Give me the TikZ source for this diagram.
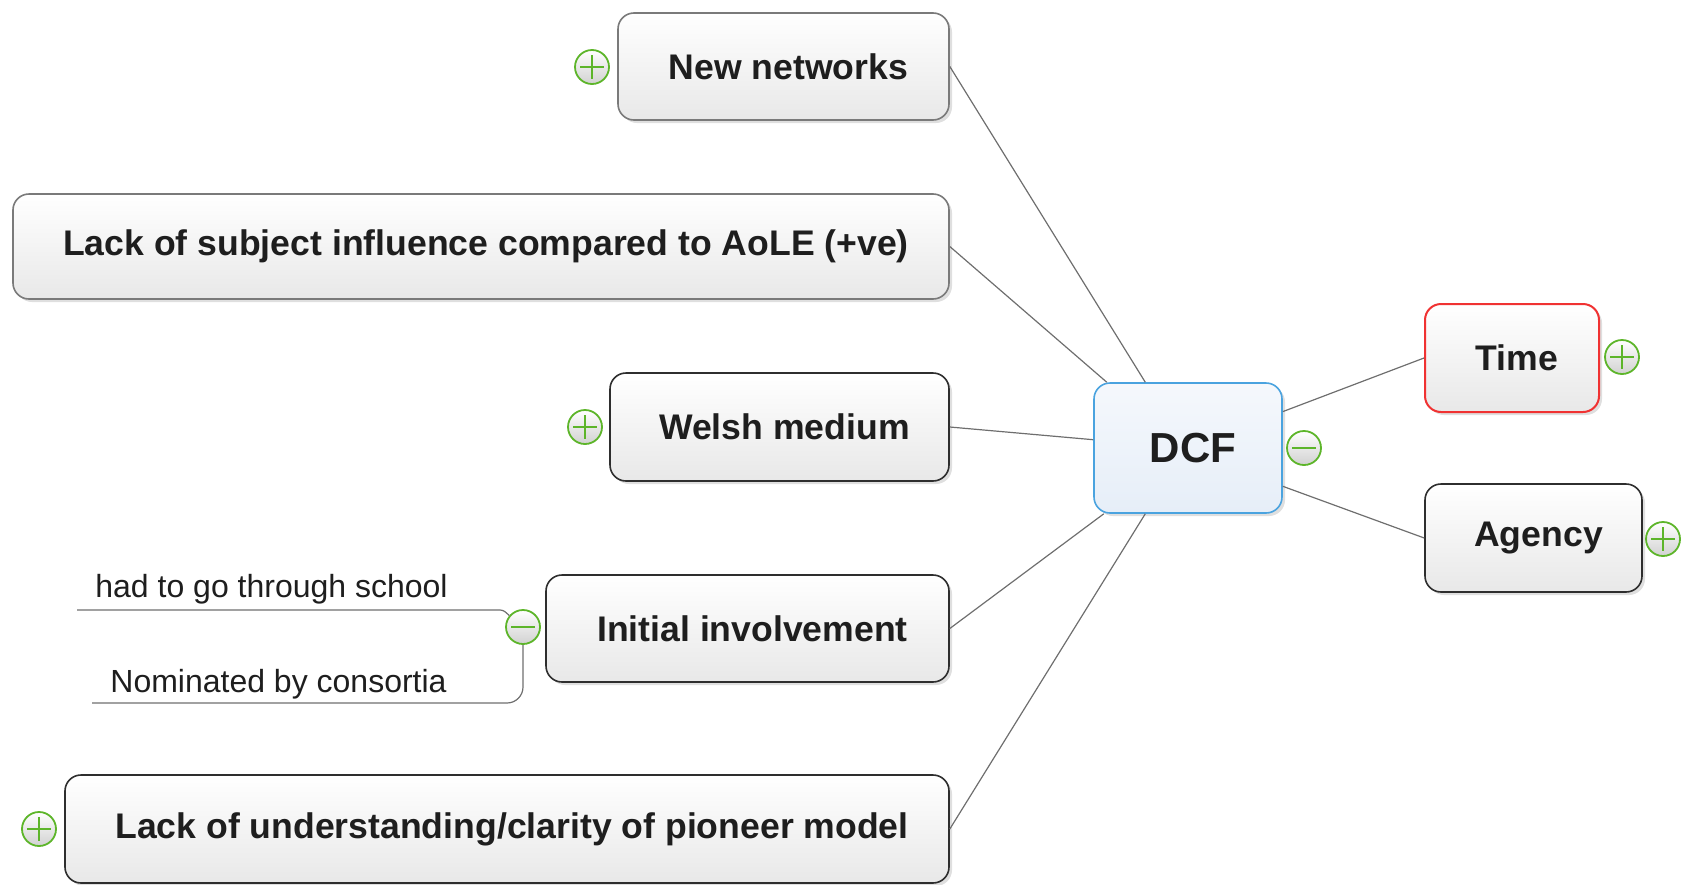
\documentclass[tikz,border=0pt]{standalone}
\usepackage{fontspec}
\setmainfont{Liberation Sans}
\usetikzlibrary{shadows}
\definecolor{boxgray}{HTML}{7A7A7A}
\definecolor{boxdark}{HTML}{2E2E2E}
\definecolor{conngray}{HTML}{6E6E6E}
\definecolor{icongreen}{HTML}{5DB52A}
\definecolor{dcfblue}{HTML}{4AA3DF}
\definecolor{dcftop}{HTML}{F5F8FC}
\definecolor{dcfbot}{HTML}{E6EEF8}
\definecolor{timered}{HTML}{F03232}
\definecolor{txt}{HTML}{1E1E1E}
\tikzset{
  box/.style={draw=boxgray, line width=0.8pt, rounded corners=8pt,
    top color=white, bottom color=black!9, text=txt,
    drop shadow={shadow xshift=1.5pt, shadow yshift=-1.5pt, opacity=0.25},
    font=\bfseries\fontsize{17.8}{21}\selectfont, inner sep=0pt,
    execute at begin node=\hspace*{5pt}},
  darkbox/.style={box, draw=boxdark},
  conn/.style={draw=conngray, line width=0.6pt},
  icon/.style={circle, draw=icongreen, line width=0.9pt, minimum size=17pt,
    inner sep=0pt, top color=white, bottom color=black!18},
  sign/.style={draw=icongreen, line width=1.1pt},
  childtext/.style={font=\fontsize{16}{19}\selectfont, text=txt, inner sep=0pt},
}
\begin{document}
\begin{tikzpicture}[x=0.5pt,y=-0.5pt]
\useasboundingbox (0,0) rectangle (1686,884);
% main nodes
\node[box, minimum width=165.5pt, minimum height=53.5pt] (nn) at (783.5,66.5) {New networks};
\node[box, minimum width=468pt, minimum height=52.5pt] (ls) at (481,246.5) {Lack of subject influence compared to AoLE (+ve)};
\node[darkbox, minimum width=169.5pt, minimum height=54pt] (wm) at (779.5,427) {Welsh medium};
\node[darkbox, minimum width=201.5pt, minimum height=53.5pt] (ii) at (747.5,628.5) {Initial involvement};
\node[darkbox, minimum width=442pt, minimum height=54pt] (lu) at (507,829) {Lack of understanding/clarity of pioneer model};
\node[box, draw=dcfblue, top color=dcftop, bottom color=dcfbot, minimum width=94pt, minimum height=65pt,
  font=\bfseries\fontsize{21}{25}\selectfont] (dcf) at (1188,448) {DCF};
\node[box, draw=timered, line width=1pt, minimum width=87pt, minimum height=54pt] (time) at (1512,358) {Time};
\node[darkbox, minimum width=108.5pt, minimum height=54pt] (ag) at (1533.5,538) {Agency};
% connectors
\draw[conn] (dcf.123) -- (nn.east);
\draw[conn] (dcf.141) -- (ls.east);
\draw[conn] (dcf.175) -- (wm.east);
\draw[conn] (dcf.218) -- (ii.east);
\draw[conn] (dcf.237) -- (lu.east);
\draw[conn] (dcf.21) -- (time.west);
\draw[conn] (dcf.-22) -- (ag.west);
% icons
\node[icon] (nnp) at (592,67) {};
\node[icon] (wmp) at (585,427) {};
\node[icon] (timep) at (1622,357) {};
\node[icon] (agp) at (1663,539) {};
\node[icon] (lup) at (39,829) {};
\node[icon] (dcfm) at (1304,448) {};
\node[icon] (iim) at (523,627) {};
\foreach \p in {nnp,wmp,timep,agp,lup}{
  \draw[sign] ([xshift=3pt]\p.west) -- ([xshift=-3pt]\p.east);
  \draw[sign] ([yshift=-3pt]\p.north) -- ([yshift=3pt]\p.south);
}
\foreach \p in {dcfm,iim}{
  \draw[sign] ([xshift=3pt]\p.west) -- ([xshift=-3pt]\p.east);
}
% children of Initial involvement
\coordinate (c1) at (77,610);
\coordinate (c1e) at (500,610);
\coordinate (c2) at (92,703);
\draw[conn] (c1) -- (c1e) to[out=0,in=140] (iim.140);
\draw[conn, rounded corners=8pt] (c2) -| (iim.south);
\node[childtext, anchor=base west] (t1) at (95,597) {had to go through school};
\node[childtext, anchor=base west] (t2) at (110,692) {Nominated by consortia};
\end{tikzpicture}
\end{document}
